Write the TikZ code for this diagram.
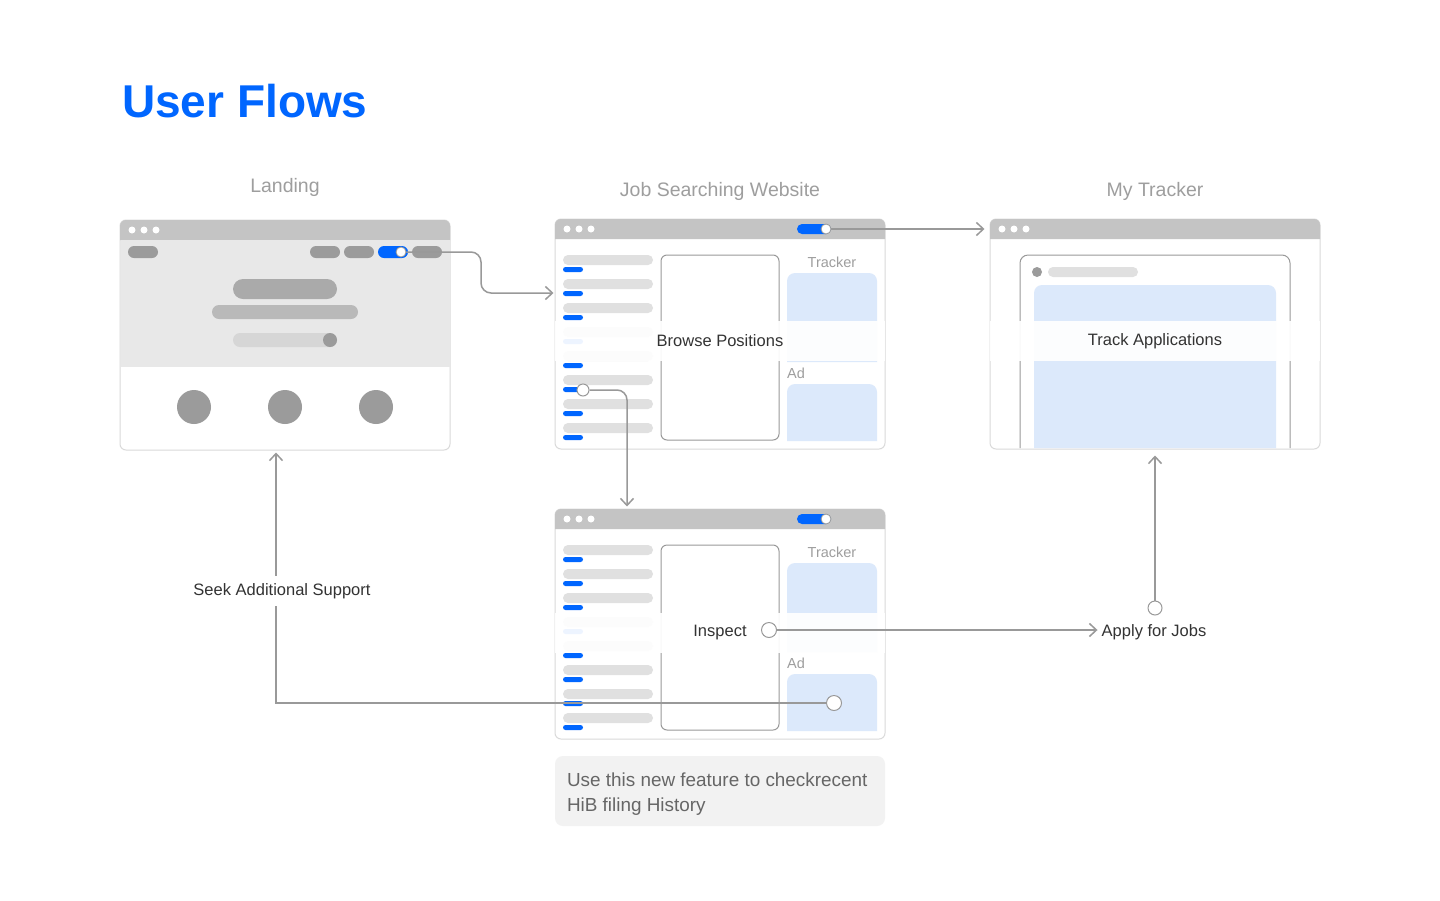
\documentclass[tikz,border=0pt]{standalone}
\usepackage{fontspec}
\setmainfont{Liberation Sans}
\usetikzlibrary{arrows.meta}

\definecolor{flowblue}{HTML}{0066FF}
\definecolor{bargray}{HTML}{C4C4C4}
\definecolor{herogray}{HTML}{E8E8E8}
\definecolor{pillgray}{HTML}{9B9B9B}
\definecolor{listgray}{HTML}{E0E0E0}
\definecolor{paleblue}{HTML}{DCE9FB}
\definecolor{linegray}{HTML}{999999}
\definecolor{framegray}{HTML}{DADADA}
\definecolor{notegray}{HTML}{F2F2F2}
\definecolor{textdark}{HTML}{333333}
\definecolor{sectiongray}{HTML}{9E9E9E}
\definecolor{notetext}{HTML}{666666}

\begin{document}
\begin{tikzpicture}[
        x=1pt, y=-1pt,
        >={Straight Barb[length=7pt,width=13pt]},
        browser window/.style={
            draw=framegray,
            line width=1pt,
            fill=white,
            rounded corners=6pt,
            minimum width=330pt,
            minimum height=230pt,
            inner sep=0pt
        },
        titlebar/.style={fill=bargray},
        pill/.style={fill=pillgray, rounded corners=6pt},
        listbar/.style={fill=listgray, rounded corners=5pt},
        bluebar/.style={fill=flowblue, rounded corners=2.5pt},
        knob/.style={circle, fill=white, draw=linegray, line width=0.8pt,
            minimum size=10pt, inner sep=0pt},
        flowdot/.style={circle, fill=white, draw=linegray, line width=1pt,
            minimum size=15pt, inner sep=0pt},
        flowband/.style={
            fill=white,
            fill opacity=0.93,
            text opacity=1,
            text=textdark,
            minimum width=330pt,
            minimum height=40pt,
            font=\fontsize{16.5}{20}\selectfont
        },
        flow label/.style={text=textdark, font=\fontsize{16.5}{20}\selectfont},
        flow/.style={draw=linegray, line width=1.5pt},
        section title/.style={text=sectiongray, font=\fontsize{19.5}{23}\selectfont},
        small label/.style={text=sectiongray, font=\fontsize{14.5}{17}\selectfont,
            inner sep=0pt}
    ]
        \path[use as bounding box, fill=white] (0,0) rectangle (1440,900);

        % headings
        \node[anchor=base west, inner sep=0pt, text=flowblue,
            font=\fontsize{46}{50}\selectfont\bfseries] (title) at (122,117) {User Flows};
        \node[section title] (landing-title) at (285,187) {Landing};
        \node[section title] (browse-title) at (720,191) {Job Searching Website};
        \node[section title] (tracker-title) at (1155,191) {My Tracker};

        % landing page
        \node[browser window] (landing) at (285,335) {};
        \fill[titlebar] (120,240) [rounded corners=6pt] -- (120,220) -- (450,220)
            [sharp corners] -- (450,240) -- cycle;
        \fill[herogray] (120.5,240) rectangle (449.5,367);
        \foreach \dx in {132,144,156} \fill[white] (\dx,230) circle (3.5pt);
        \foreach \px in {128,310,344,412} \fill[pill] (\px,246) rectangle ++(30,12);
        \fill[pill, fill=flowblue] (378,246) rectangle ++(30,12);
        \node[knob] (navknob) at (401,252) {};
        \fill[fill=pillgray!85, rounded corners=10pt] (233,279) rectangle (337,299);
        \fill[fill=pillgray!70, rounded corners=7pt] (212,305) rectangle (358,319);
        \fill[fill=listgray!90!gray, rounded corners=7pt] (233,333) rectangle (337,347);
        \fill[pillgray] (330,340) circle (7pt);
        \foreach \cx in {194,285,376} \fill[pillgray] (\cx,407) circle (17pt);

        % job search pages
        \foreach \win/\oy in {browse/0, inspect/290} {
            \begin{scope}[shift={(0,\oy)}]
                \node[browser window] (\win) at (720,334) {};
                \fill[titlebar] (555,239) [rounded corners=6pt] -- (555,219) -- (885,219)
                    [sharp corners] -- (885,239) -- cycle;
                \foreach \dx in {567,579,591} \fill[white] (\dx,229) circle (3.5pt);
                \fill[bluebar, rounded corners=5pt] (797,224) rectangle (831,234);
                \node[knob] (\win-knob) at (826,229) {};
                \foreach \k in {0,...,7} {
                    \fill[listbar] (563,{255+24*\k}) rectangle ++(90,10);
                    \fill[bluebar] (563,{267+24*\k}) rectangle ++(20,5);
                }
                \draw[draw=linegray, line width=1pt, fill=white, rounded corners=6pt]
                    (661,255) rectangle (779,440);
                \node[small label] at (832,262) {Tracker};
                \fill[paleblue] (787,362) [rounded corners=8pt] -- (787,273) -- (877,273)
                    [sharp corners] -- (877,362) -- cycle;
                \node[small label, anchor=west] at (787,373) {Ad};
                \fill[paleblue] (787,441) [rounded corners=8pt] -- (787,384) -- (877,384)
                    [sharp corners] -- (877,441) -- cycle;
            \end{scope}
        }

        % tracker page
        \node[browser window] (tracker) at (1155,334) {};
        \fill[titlebar] (990,239) [rounded corners=6pt] -- (990,219) -- (1320,219)
            [sharp corners] -- (1320,239) -- cycle;
        \foreach \dx in {1002,1014,1026} \fill[white] (\dx,229) circle (3.5pt);
        \draw[linegray, line width=1pt] (1020,448) [rounded corners=8pt] -- (1020,255)
            -- (1290,255) [sharp corners] -- (1290,448);
        \fill[pillgray] (1037,272) circle (5pt);
        \fill[listbar] (1048,267) rectangle (1138,277);
        \fill[paleblue] (1034,448) [rounded corners=8pt] -- (1034,285) -- (1276,285)
            [sharp corners] -- (1276,448) -- cycle;

        % step labels
        \node[flowband] (browse-lbl) at (720,341) {Browse Positions};
        \node[flowband] (tracker-lbl) at (1155,341) {Track Applications};
        \node[flowband] (inspect-lbl) at (720,632.5) {Inspect};

        \node[flowdot, minimum size=12pt] (browse-item) at (583,390) {};
        \node[flowdot] (inspect-dot) at (769,630) {};
        \node[flowdot] (ad-dot) at (834,703) {};
        \node[flowdot, minimum size=14pt] (apply-dot) at (1155,608) {};
        \node[flow label, inner sep=4pt] (apply-lbl) at (1154,632) {Apply for Jobs};

        % connectors
        \draw[flow, ->, rounded corners=10pt] (navknob.east) -- (481,252) -- (481,293)
            -- ([xshift=-1pt, yshift=41pt]browse.west);
        \draw[flow, ->] (browse-knob.east) -- ([xshift=-5pt, yshift=105pt]tracker.west);
        \draw[flow, ->, rounded corners=10pt] (browse-item.east)
            -| ([xshift=-93pt, yshift=2pt]inspect.north);
        \draw[flow, ->] (inspect-dot.east) -- ([yshift=2pt]apply-lbl.west);
        \draw[flow, ->] (apply-dot.north) -- ([yshift=-6pt]tracker.south);
        \draw[flow, ->] (ad-dot.west) -| ([xshift=-9pt, yshift=-2pt]landing.south);
        \node[flow label, fill=white, inner xsep=2pt, inner ysep=7pt] (seek-lbl)
            at (282,591) {Seek Additional Support};

        % note
        \node[fill=notegray, rounded corners=8pt, minimum width=330pt,
            minimum height=70pt] (note) at (720,791) {};
        \node[anchor=west, align=left, text=notetext, inner sep=0pt,
            font=\fontsize{18.9}{25}\selectfont] (note-text) at ([xshift=12pt, yshift=-3pt]note.west)
            {Use this new feature to checkrecent\\HiB filing History};
\end{tikzpicture}
\end{document}
